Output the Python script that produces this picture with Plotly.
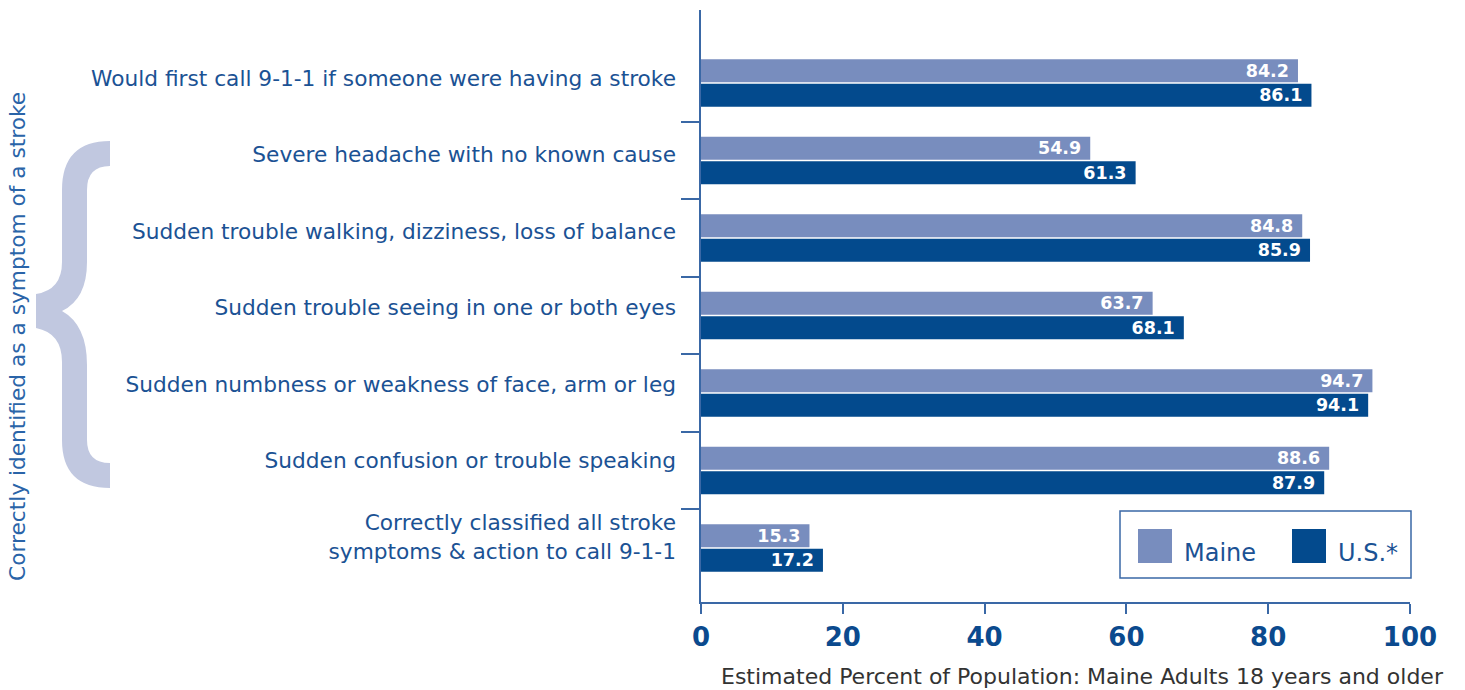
import plotly.graph_objects as go

# ---------------- data ----------------
categories = [
    "Would first call 9-1-1 if someone were having a stroke",
    "Severe headache with no known cause",
    "Sudden trouble walking, dizziness, loss of balance",
    "Sudden trouble seeing in one or both eyes",
    "Sudden numbness or weakness of face, arm or leg",
    "Sudden confusion or trouble speaking",
    "Correctly classified all stroke<br>symptoms & action to call 9-1-1",
]
series_names = ["Maine", "U.S.*"]
maine = [84.2, 54.9, 84.8, 63.7, 94.7, 88.6, 15.3]
us = [86.1, 61.3, 85.9, 68.1, 94.1, 87.9, 17.2]
x_ticks = [0, 20, 40, 60, 80, 100]
x_title = "Estimated Percent of Population: Maine Adults 18 years and older"
y_title = "Correctly identified as a symptom of a stroke"

# ---------------- style ----------------
W, H = 1465, 690
L, R, T, B = 701, 1410, 10, 602          # plot area in pixels
C_MAINE = "#788dbe"
C_US = "#034a8d"
C_TEXT = "#1b5294"
C_AXIS = "#3a68a6"
C_BRACE = "#c1c8e0"
FONT = "DejaVu Sans"


def px(x):
    return (x - L) / (R - L)


def py(y):
    return (B - y) / (B - T)


fig = go.Figure()
for name, vals, col in [(series_names[0], maine, C_MAINE), (series_names[1], us, C_US)]:
    fig.add_trace(go.Bar(
        y=categories, x=vals, name=name, orientation="h",
        marker=dict(color=col, line=dict(width=0)),
        texttemplate="%{x:.1f}\u00a0", textposition="inside",
        insidetextanchor="end", constraintext="none",
        insidetextfont=dict(family=FONT, size=17.5, color="white", weight="bold"),
        showlegend=False, hoverinfo="x+name",
    ))

# helper traces for the separator-tick axis and the label axis
fig.add_trace(go.Scatter(x=[None], y=[None], yaxis="y2", mode="markers",
                         showlegend=False, hoverinfo="skip"))
fig.add_trace(go.Scatter(x=[None] * len(categories), y=categories, yaxis="y3",
                         mode="markers", showlegend=False, hoverinfo="skip"))

n = len(categories)
yrange = [6.697, -0.942]          # bar axis
lrange = [6.850, -0.889]          # label axis (labels sit slightly tighter)

fig.update_layout(
    width=W, height=H,
    margin=dict(l=L, r=W - R, t=T, b=H - B),
    paper_bgcolor="white", plot_bgcolor="white",
    barmode="group", bargap=0.37, bargroupgap=0.06,
    showlegend=False,
    xaxis=dict(
        range=[0, 100], tickvals=x_ticks, showgrid=False, zeroline=False,
        showline=True, linecolor=C_AXIS, linewidth=2,
        ticks="outside", ticklen=10, tickwidth=2, tickcolor=C_AXIS,
        tickfont=dict(family=FONT, size=26, color="#0b4a8e", weight="bold"),
        ticklabelstandoff=1,
    ),
    yaxis=dict(
        type="category", categoryorder="array", categoryarray=categories,
        range=yrange, showgrid=False, zeroline=False,
        showline=True, linecolor=C_AXIS, linewidth=2,
        ticks="", showticklabels=False,
    ),
    yaxis2=dict(
        overlaying="y", side="left", anchor="x", range=yrange,
        tickvals=[i + 0.5 for i in range(n - 1)],
        ticks="outside", ticklen=19, tickwidth=2, tickcolor=C_AXIS,
        showticklabels=False, showgrid=False, zeroline=False, showline=False,
    ),
    yaxis3=dict(
        overlaying="y", side="left", anchor="x", type="category",
        categoryorder="array", categoryarray=categories, range=lrange,
        ticks="", ticklabelstandoff=24, showgrid=False, zeroline=False, showline=False,
        tickfont=dict(family=FONT, size=21.7, color=C_TEXT),
    ),
)

# brace (decoration) drawn as filled path in pixel coords -> paper
brace_pts = [
    ("M", [(110, 141)]),
    ("Q", [(62, 141), (62, 190)]),
    ("L", [(62, 262)]),
    ("Q", [(62, 290), (36, 294)]),
    ("L", [(36, 328)]),
    ("Q", [(62, 333), (62, 362)]),
    ("L", [(62, 440)]),
    ("Q", [(62, 488), (110, 488)]),
    ("L", [(110, 463)]),
    ("Q", [(87, 463), (87, 440)]),
    ("L", [(87, 365)]),
    ("Q", [(87, 325), (62, 311)]),
    ("Q", [(87, 299), (87, 262)]),
    ("L", [(87, 190)]),
    ("Q", [(87, 166), (110, 166)]),
]
path = ""
for cmd, pts in brace_pts:
    path += cmd + " " + " ".join(f"{px(a):.5f},{py(b):.5f}" for a, b in pts) + " "
path += "Z"
fig.add_shape(type="path", path=path, xref="paper", yref="paper",
              fillcolor=C_BRACE, line=dict(width=0), layer="above")

# vertical group title
fig.add_annotation(text=y_title, xref="paper", yref="paper", x=px(17), y=py(337),
                   textangle=-90, showarrow=False, xanchor="center", yanchor="middle",
                   font=dict(family=FONT, size=21.7, color="#2a64a8"))

# x-axis title
fig.add_annotation(text=x_title, xref="paper", yref="paper", x=px(1446), y=py(676),
                   showarrow=False, xanchor="right", yanchor="middle",
                   font=dict(family=FONT, size=22, color="#333333"))

# manual legend with large swatches
fig.add_shape(type="rect", xref="paper", yref="paper",
              x0=px(1120), x1=px(1411), y0=py(578), y1=py(511),
              line=dict(color=C_AXIS, width=1.5), fillcolor="white", layer="above")
for name, col, x0, tx in [(series_names[0], C_MAINE, 1138, 1182),
                          (series_names[1], C_US, 1292, 1336)]:
    fig.add_shape(type="rect", xref="paper", yref="paper",
                  x0=px(x0), x1=px(x0 + 34), y0=py(563), y1=py(529),
                  line=dict(width=0), fillcolor=col, layer="above")
    fig.add_annotation(text=name, xref="paper", yref="paper", x=px(tx), y=py(553),
                       showarrow=False, xanchor="left", yanchor="middle",
                       font=dict(family=FONT, size=24, color=C_TEXT))

fig.write_html("out.html", config={"displayModeBar": False},
               post_script="document.body.style.margin='0';")
